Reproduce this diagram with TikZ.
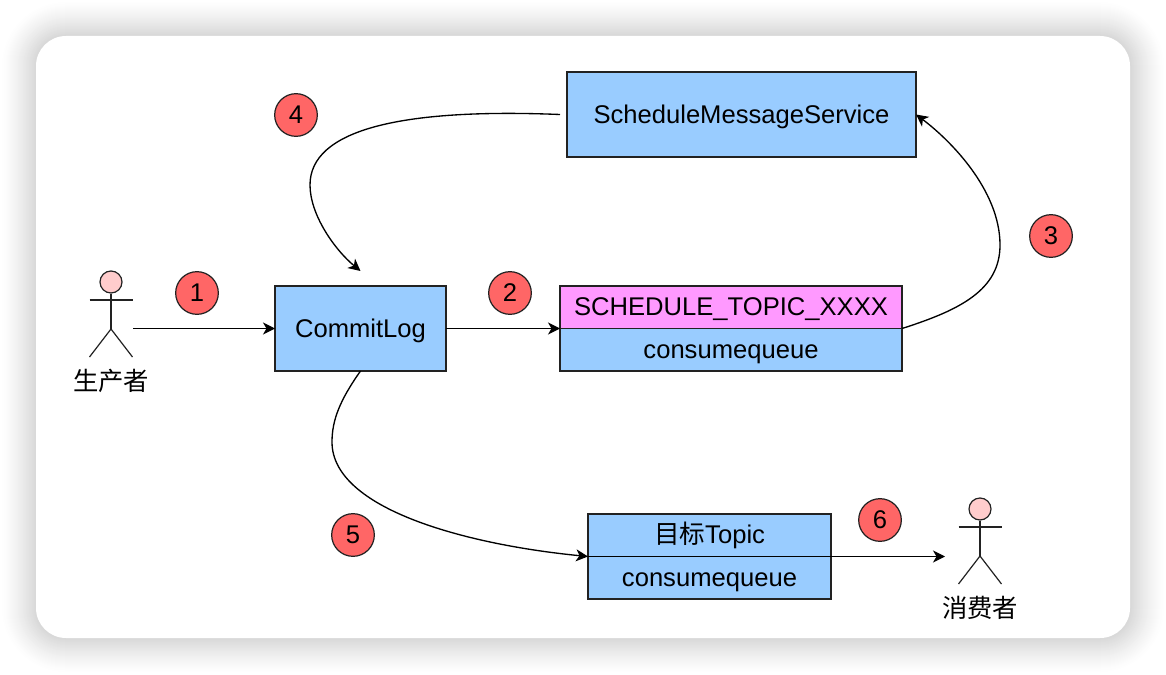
\documentclass[tikz,border=0pt]{standalone}
\usepackage{fontspec}
\setmainfont{Liberation Sans}
\newfontfamily\cjk{Noto Sans CJK SC}
\usetikzlibrary{arrows.meta,positioning}
\definecolor{boxblue}{HTML}{99CCFF}
\definecolor{boxpink}{HTML}{FF99FF}
\definecolor{badgered}{HTML}{FF6666}
\definecolor{headpink}{HTML}{FFCCCC}
\definecolor{inkdark}{HTML}{222222}
\tikzset{
  boxnode/.style={draw=inkdark, fill=boxblue, line width=0.9pt, inner sep=0pt, outer sep=0pt,
    text height=12.8pt, text depth=0pt, font=\fontsize{19.2}{23}\selectfont},
  badge/.style={circle, draw=inkdark, fill=badgered, line width=0.9pt, inner sep=0pt,
    minimum size=32pt, font=\fontsize{19.2}{23}\selectfont},
  head/.style={circle, draw=inkdark, fill=headpink, line width=0.9pt, inner sep=0pt, minimum size=16.5pt},
  actorname/.style={inner sep=0pt, font=\cjk\fontsize{19}{22}\selectfont},
  limb/.style={draw=inkdark, line width=0.9pt},
  flow/.style={draw=black, line width=1pt, -{Stealth[length=9pt,width=9pt,inset=2.6pt]}}
}
\begin{document}
\begin{tikzpicture}[x=0.75pt, y=-0.75pt]
  \useasboundingbox (0,0) rectangle (1166,674);
  % 卡片阴影
  \foreach \i in {34,33,...,1} {
    \pgfmathsetmacro{\shade}{15*((35-\i)/34)^1.3}
    \fill[black!\shade, rounded corners={(30+\i)*0.75pt}]
      (36-\i, 36-\i) rectangle (1130+\i, 638+\i);
  }
  \fill[white, rounded corners=22.5pt] (36,36) rectangle (1130,638);
  % 方框
  \node[boxnode, minimum width=128.25pt, minimum height=63.75pt] (commitlog) at (360.5,328.5) {CommitLog};
  \node[boxnode, fill=boxpink, minimum width=256.5pt, minimum height=31.875pt] (schedtopic) at (731,307.25) {SCHEDULE\_TOPIC\_XXXX};
  \node[boxnode, minimum width=256.5pt, minimum height=31.875pt, below=0pt of schedtopic] (schedqueue) {consumequeue};
  \node[boxnode, minimum width=261.75pt, minimum height=63.75pt] (service) at (741.5,114.5) {ScheduleMessageService};
  \node[boxnode, minimum width=182.25pt, minimum height=31.875pt] (target) at (709.5,535.25) {{\cjk 目标}Topic};
  \node[boxnode, minimum width=182.25pt, minimum height=31.875pt, below=0pt of target] (targetqueue) {consumequeue};
  % 小人
  \foreach \name/\ax/\ay/\txt in {producer/111/282/生产者, consumer/980/509/消费者} {
    \node[head] (\name head) at (\ax,\ay) {};
    \coordinate (\name arml) at (\ax-21.5,\ay+18);
    \coordinate (\name armr) at (\ax+21.5,\ay+18);
    \coordinate (\name hip) at (\ax,\ay+47);
    \coordinate (\name legl) at (\ax-21.5,\ay+75);
    \coordinate (\name legr) at (\ax+21.5,\ay+75);
    \draw[limb] (\name head) -- (\name hip);
    \draw[limb] (\name arml) -- (\name armr);
    \draw[limb] (\name legl) -- (\name hip) -- (\name legr);
    \node[actorname] (\name name) at (\ax,\ay+99) {\txt};
  }
  % 序号
  \node[badge] (n1) at (197,293) {1};
  \node[badge] (n2) at (510,293) {2};
  \node[badge] (n3) at (1051,236) {3};
  \node[badge] (n4) at (296,115) {4};
  \node[badge] (n5) at (353,535) {5};
  \node[badge] (n6) at (880,520) {6};
  % 箭头
  \coordinate (producerout) at (133,328.5);
  \coordinate (consumerin) at (945,556.5);
  \coordinate (serviceout) at ([xshift=-5.25pt]service.west);
  \coordinate (commitin) at ([yshift=11.25pt]commitlog.north);
  \draw[flow] (producerout) -- (commitlog.west);
  \draw[flow] (commitlog.east) -- (schedtopic.south west);
  \draw[flow] (schedtopic.south east) .. controls (960,310) and (1000,290) .. (1000,245)
    .. controls (1000,190) and (950,140) .. (service.east);
  \draw[flow] (serviceout) .. controls (400,108) and (310,130) .. (310,185)
    .. controls (310,215) and (335,250) .. (commitin);
  \draw[flow] (commitlog.south) .. controls (340,400) and (332,420) .. (332,442)
    .. controls (332,510) and (470,545) .. (target.south west);
  \draw[flow] (target.south west) -- (consumerin);
\end{tikzpicture}
\end{document}
